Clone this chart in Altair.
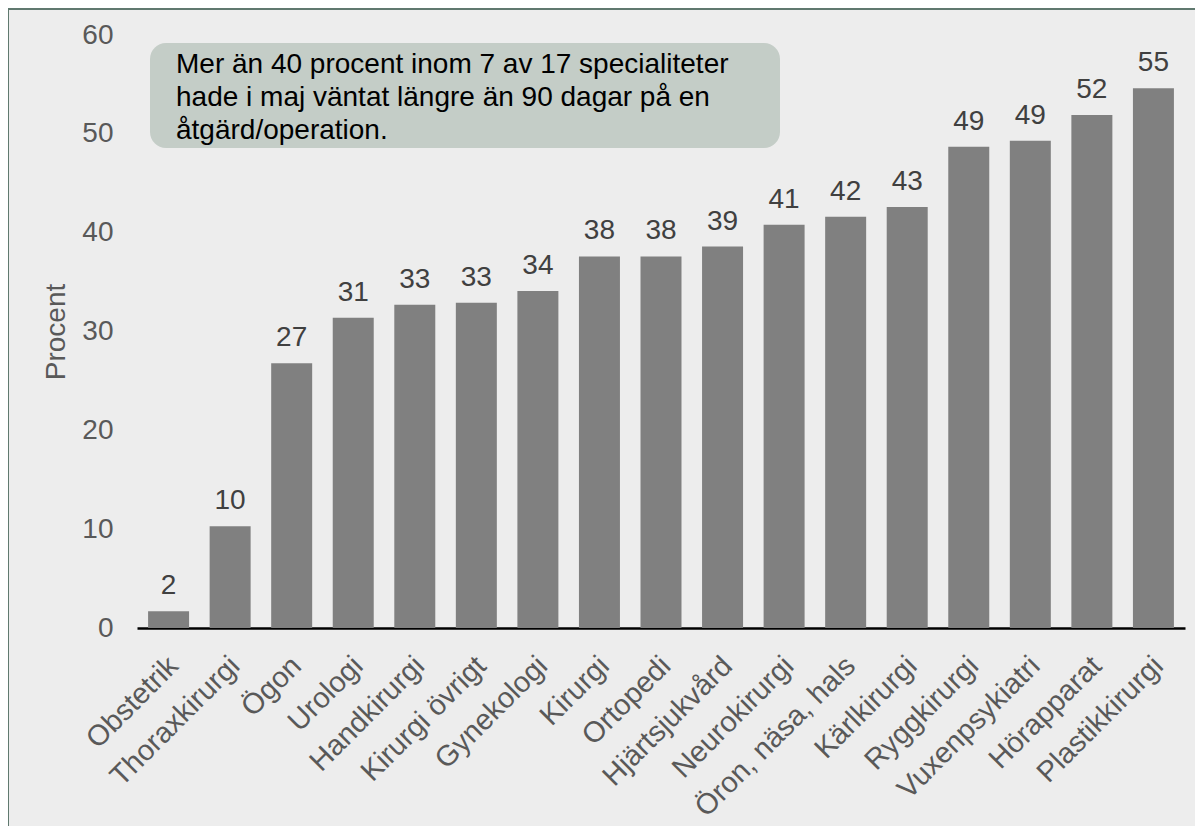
import altair as alt
import pandas as pd

categories = ["Obstetrik", "Thoraxkirurgi", "Ögon", "Urologi", "Handkirurgi",
              "Kirurgi övrigt", "Gynekologi", "Kirurgi", "Ortopedi", "Hjärtsjukvård",
              "Neurokirurgi", "Öron, näsa, hals", "Kärlkirurgi", "Ryggkirurgi",
              "Vuxenpsykiatri", "Hörapparat", "Plastikkirurgi"]
values = [1.7, 10.3, 26.8, 31.4, 32.7, 32.9, 34.1, 37.6, 37.6, 38.6,
          40.8, 41.6, 42.6, 48.7, 49.3, 51.9, 54.6]
y_ticks = [0, 10, 20, 30, 40, 50, 60]
annotation_lines = ["Mer än 40 procent inom 7 av 17 specialiteter",
                    "hade i maj väntat längre än 90 dagar på en",
                    "åtgärd/operation."]

FONT = "Liberation Sans"
W, H = 1048, 593
PAD = {"left": 129, "top": 27, "right": 10, "bottom": 198}

df = pd.DataFrame({"Specialitet": categories, "Procent": values})
note_df = pd.DataFrame({"t": ["\n".join(annotation_lines)]})

x_enc = alt.X(
    "Specialitet:N", sort=categories, title=None,
    scale=alt.Scale(paddingInner=0.334, paddingOuter=0.18),
    axis=alt.Axis(labelAngle=-45, labelAlign="right", labelBaseline="top",
                  labelPadding=23, labelOffset=-5, labelFontSize=29,
                  labelColor="#595959", labelFont=FONT, ticks=False, tickSize=0,
                  domainColor="#000000", domainWidth=2.5, grid=False,
                  labelLimit=400, labelOverlap=False),
)
y_enc = alt.Y(
    "Procent:Q",
    scale=alt.Scale(domain=[0, 60], nice=False),
    axis=alt.Axis(values=y_ticks, title="Procent", grid=False, domain=False,
                  ticks=False, tickSize=0, labelPadding=24, labelFontSize=28,
                  labelColor="#595959", labelFont=FONT,
                  titleX=-73, titleY=296.5, titleBaseline="alphabetic",
                  titleFontWeight="normal", titleFontSize=28, titleColor="#595959",
                  titleFont=FONT),
)

base = alt.Chart(df)
bars = base.mark_bar(color="#808080").encode(x=x_enc, y=y_enc)
labels = base.mark_text(dy=-17, baseline="alphabetic", fontSize=28, color="#404040",
                        font=FONT).encode(
    x=alt.X("Specialitet:N", sort=categories),
    y="Procent:Q",
    text=alt.Text("Procent:Q", format=".0f"),
)

box = alt.Chart(note_df).mark_rect(color="#c4cdc7", cornerRadius=16).encode(
    x=alt.value(13), x2=alt.value(643), y=alt.value(8), y2=alt.value(113)
)
note = alt.Chart(note_df).mark_text(align="left", baseline="alphabetic", lineBreak="\n",
                                     lineHeight=33, fontSize=28, color="#000000",
                                     font=FONT).encode(
    x=alt.value(39), y=alt.value(38), text="t:N"
)

left_border = alt.Chart(note_df).mark_rule(color="#60796f", strokeWidth=2).encode(
    x=alt.value(-129), y=alt.value(-27), y2=alt.value(H + 200)
)
top_border = alt.Chart(note_df).mark_rule(color="#60796f", strokeWidth=2).encode(
    x=alt.value(-130), x2=alt.value(W + 20), y=alt.value(-26)
)

chart = alt.layer(bars, labels, box, note, left_border, top_border).properties(
    width=W, height=H,
    autosize=alt.AutoSizeParams(type="none"),
    padding=PAD,
    background="#ededed",
).configure_view(stroke=None)

chart.save("out.html", embed_options={"renderer": "svg", "actions": False})
